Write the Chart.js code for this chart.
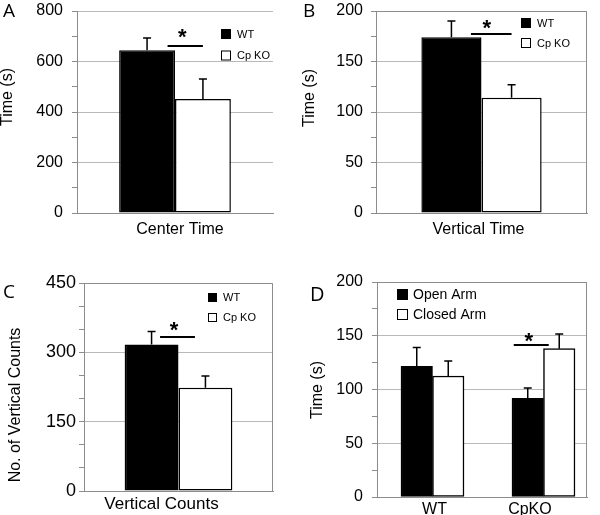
<!DOCTYPE html>
<html><head><meta charset="utf-8">
<script src="https://cdn.jsdelivr.net/npm/chart.js@4/dist/chart.umd.min.js"></script>
<style>
body{margin:0;background:#fff;width:600px;height:515px;position:relative;overflow:hidden}
.p{position:absolute}
canvas{display:block}
</style></head><body>
<div class="p" style="left:0;top:0"><canvas id="cA" width="300" height="250"></canvas></div>
<div class="p" style="left:300px;top:0"><canvas id="cB" width="300" height="250"></canvas></div>
<div class="p" style="left:0;top:250px"><canvas id="cC" width="300" height="265"></canvas></div>
<div class="p" style="left:300px;top:250px"><canvas id="cD" width="300" height="265"></canvas></div>
<script>
// ---- data ----
const seriesWT = ['WT', 'Cp KO'];
const seriesArm = ['Open Arm', 'Closed Arm'];

const catsA = ['Center Time'];
const wtA = [645];
const koA = [451];
const wtErrA = [48];
const koErrA = [80];
const majorA = [0, 200, 400, 600, 800];

const catsB = ['Vertical Time'];
const wtB = [174];
const koB = [114];
const wtErrB = [16];
const koErrB = [13];
const majorB = [0, 50, 100, 150, 200];

const catsC = ['Vertical Counts'];
const wtC = [317];
const koC = [223.5];
const wtErrC = [28];
const koErrC = [25.5];
const majorC = [0, 150, 300, 450];

const catsD = ['WT', 'CpKO'];
const openD = [121.6, 91.8];
const closedD = [112.6, 138];
const openErrD = [17.4, 9.6];
const closedErrD = [13.9, 13.6];
const majorD = [0, 50, 100, 150, 200];

Chart.defaults.font.family = '"Liberation Sans", Arial, sans-serif';
Chart.defaults.color = '#000';

const AXIS = '#8c8c8c', GRID = '#b9b9b9';

const deco = {
  id: 'deco',
  afterDatasetsDraw(chart, args, o) {
    const ctx = chart.ctx, ca = chart.chartArea, ys = chart.scales.y;
    ctx.save();
    if (o.frame) {
      ctx.strokeStyle = AXIS; ctx.lineWidth = 1;
      ctx.beginPath();
      ctx.moveTo(ca.left, ca.top + 0.5);
      ctx.lineTo(ca.right - 0.5, ca.top + 0.5);
      ctx.lineTo(ca.right - 0.5, ca.bottom);
      ctx.stroke();
    }
    chart.data.datasets.forEach((ds, di) => {
      const meta = chart.getDatasetMeta(di);
      meta.data.forEach((bar, i) => {
        const d = ds.data[i];
        const v = (typeof d === 'object') ? d.y : d;
        const yt = ys.getPixelForValue(v + ds.errors[i]);
        const x = bar.x;
        ctx.strokeStyle = '#000'; ctx.lineWidth = 1.5;
        ctx.beginPath();
        ctx.moveTo(x, bar.y); ctx.lineTo(x, yt);
        ctx.moveTo(x - 4, yt); ctx.lineTo(x + 4, yt);
        ctx.stroke();
      });
    });
    if (o.sig) {
      const s = o.sig;
      const x1 = chart.getDatasetMeta(s.a[0]).data[s.a[1]].x + s.a[2];
      const x2 = chart.getDatasetMeta(s.b[0]).data[s.b[1]].x + s.b[2];
      const yy = ys.getPixelForValue(s.value);
      ctx.strokeStyle = '#000'; ctx.lineWidth = 2;
      ctx.beginPath(); ctx.moveTo(x1, yy); ctx.lineTo(x2, yy); ctx.stroke();
      ctx.fillStyle = '#000';
      ctx.font = 'bold 22px "Liberation Sans", Arial, sans-serif';
      ctx.textAlign = 'center'; ctx.textBaseline = 'alphabetic';
      ctx.fillText('*', (x1 + x2) / 2 + s.dx, yy + s.dy + 12);
    }
    ctx.restore();
  },
  afterDraw(chart, args, o) {
    const ctx = chart.ctx;
    ctx.save();
    ctx.fillStyle = '#000';
    if (o.letter) {
      ctx.font = o.letter.font;
      ctx.textAlign = 'left'; ctx.textBaseline = 'alphabetic';
      ctx.fillText(o.letter.text, o.letter.x, o.letter.y);
    }
    if (o.ytitle) {
      ctx.font = o.ytitle.font;
      ctx.translate(o.ytitle.x, o.ytitle.y);
      ctx.rotate(-Math.PI / 2);
      ctx.textAlign = 'center'; ctx.textBaseline = 'middle';
      ctx.fillText(o.ytitle.text, 0, 0);
      ctx.setTransform(1, 0, 0, 1, 0, 0);
    }
    if (o.legend) {
      const L = o.legend;
      ctx.font = L.font;
      ctx.textAlign = 'left'; ctx.textBaseline = 'middle';
      chart.data.datasets.forEach((ds, i) => {
        const y = L.y + i * L.gap;
        ctx.fillStyle = ds.backgroundColor;
        ctx.fillRect(L.x, y, L.box, L.box);
        ctx.strokeStyle = '#000'; ctx.lineWidth = 1;
        ctx.strokeRect(L.x + 0.5, y + 0.5, L.box - 1, L.box - 1);
        ctx.fillStyle = '#000';
        ctx.fillText(ds.label, L.x + L.tx, y + L.box / 2 + 0.5);
      });
    }
    ctx.restore();
  }
};

function yScale(max, step, major, width, pad, fontSize) {
  return {
    min: 0, max: max,
    afterFit: s => { s.width = width; s.paddingTop = 0; s.paddingBottom = 0; },
    border: { color: AXIS, width: 1 },
    grid: {
      color: c => (c.tick && major.includes(c.tick.value) && c.tick.value !== 0) ? GRID : 'rgba(0,0,0,0)',
      tickColor: AXIS, tickLength: 5, lineWidth: 1
    },
    ticks: {
      stepSize: step, padding: pad, font: { size: fontSize }, autoSkip: false,
      callback: v => major.includes(v) ? String(v) : ''
    }
  };
}
function xCat(height, pad, offset, fontSize) {
  return {
    afterFit: s => { s.height = height; s.paddingLeft = 0; s.paddingRight = 0; },
    border: { color: AXIS, width: 1 },
    grid: { display: false, drawTicks: false, tickLength: 0 },
    ticks: { padding: pad, labelOffset: offset, font: { size: fontSize } }
  };
}
function barDs(label, data, errs, fill) {
  return { label, data, errors: errs, backgroundColor: fill, borderColor: '#000',
    borderWidth: 1.5, borderSkipped: false, categoryPercentage: 0.57, barPercentage: 1 };
}
const base = { responsive: false, animation: false, devicePixelRatio: 1 };
const noLeg = { legend: { display: false }, tooltip: { enabled: false } };

new Chart(document.getElementById('cA'), {
  type: 'bar',
  data: { labels: catsA, datasets: [
    barDs(seriesWT[0], wtA, wtErrA, '#000'),
    barDs(seriesWT[1], koA, koErrA, '#fff') ] },
  options: Object.assign({}, base, {
    layout: { padding: { top: 11, right: 27, left: 0, bottom: 0 } },
    scales: { x: xCat(37, 7, 5, 16), y: yScale(800, 100, majorA, 77, 9, 16) },
    plugins: Object.assign({}, noLeg, { deco: {
      frame: false,
      sig: { a: [0, 0, 20.5], b: [1, 0, 0], value: 661, dx: -3, dy: -14 },
      letter: { text: 'A', x: 3, y: 17, font: '19px "Open Sans", sans-serif' },
      ytitle: { text: 'Time (s)', x: 8, y: 97, font: '16px "Liberation Sans", Arial, sans-serif' },
      legend: { x: 221, y: 29, gap: 21.5, box: 10, tx: 16, font: '11px "Liberation Sans", Arial, sans-serif' }
    } })
  }),
  plugins: [deco]
});

new Chart(document.getElementById('cB'), {
  type: 'bar',
  data: { labels: catsB, datasets: [
    barDs(seriesWT[0], wtB, wtErrB, '#000'),
    barDs(seriesWT[1], koB, koErrB, '#fff') ] },
  options: Object.assign({}, base, {
    layout: { padding: { top: 11, right: 13, left: 0, bottom: 0 } },
    scales: { x: xCat(37, 7, -3, 16), y: yScale(200, 25, majorB, 76, 8, 16) },
    plugins: Object.assign({}, noLeg, { deco: {
      frame: true,
      sig: { a: [0, 0, 19.5], b: [1, 0, 0], value: 177.2, dx: -4.5, dy: -11 },
      letter: { text: 'B', x: 3, y: 17, font: '19px "Open Sans", sans-serif' },
      ytitle: { text: 'Time (s)', x: 10, y: 98, font: '16px "Liberation Sans", Arial, sans-serif' },
      legend: { x: 221, y: 18, gap: 20, box: 10, tx: 16, font: '11px "Liberation Sans", Arial, sans-serif' }
    } })
  }),
  plugins: [deco]
});

new Chart(document.getElementById('cC'), {
  type: 'bar',
  data: { labels: catsC, datasets: [
    barDs(seriesWT[0], wtC, wtErrC, '#000'),
    barDs(seriesWT[1], koC, koErrC, '#fff') ] },
  options: Object.assign({}, base, {
    layout: { padding: { top: 33, right: 27, left: 0, bottom: 0 } },
    scales: { x: xCat(24, 3, -17, 17), y: yScale(450, 50, majorC, 84, 3, 18) },
    plugins: Object.assign({}, noLeg, { deco: {
      frame: true,
      sig: { a: [0, 0, 8.5], b: [1, 0, -10.5], value: 333, dx: -3.5, dy: -12 },
      letter: { text: 'C', x: 3, y: 48, font: '19px "Open Sans", sans-serif' },
      ytitle: { text: 'No. of Vertical Counts', x: 16, y: 155, font: '16px "Liberation Sans", Arial, sans-serif' },
      legend: { x: 208, y: 43, gap: 20, box: 9, tx: 15, font: '11px "Liberation Sans", Arial, sans-serif' }
    } })
  }),
  plugins: [deco]
});

new Chart(document.getElementById('cD'), {
  type: 'bar',
  data: { datasets: [
    { label: seriesArm[0], data: openD.map((v, i) => ({ x: i, y: v })), errors: openErrD,
      backgroundColor: '#000', borderColor: '#000', borderWidth: 1.5, borderSkipped: false, barThickness: 31.5 },
    { label: seriesArm[1], data: closedD.map((v, i) => ({ x: i, y: v })), errors: closedErrD,
      backgroundColor: '#fff', borderColor: '#000', borderWidth: 1.5, borderSkipped: false, barThickness: 31.5 } ] },
  options: Object.assign({}, base, {
    layout: { padding: { top: 32, right: 13, left: 0, bottom: 0 } },
    scales: {
      x: { type: 'linear', min: -0.5, max: 1.392, offset: false, grace: 0, bounds: 'data',
        afterBuildTicks: s => { s.ticks = [{ value: 0.018 }, { value: 0.878 }]; },
        afterFit: s => { s.height = 18; s.paddingLeft = 0; s.paddingRight = 0; },
        border: { color: AXIS, width: 1 },
        grid: { display: false, drawTicks: false, tickLength: 0, offset: false },
        ticks: { padding: 3, font: { size: 16 }, autoSkip: false, callback: (v, i) => catsD[i] } },
      y: yScale(200, 25, majorD, 77, 9, 16)
    },
    plugins: Object.assign({}, noLeg, { deco: {
      frame: true,
      sig: { a: [0, 1, -14], b: [1, 1, -10.5], value: 141.4, dx: -2.5, dy: -9 },
      letter: { text: 'D', x: 10, y: 51, font: '20px "Open Sans", sans-serif' },
      ytitle: { text: 'Time (s)', x: 18, y: 140, font: '16px "Liberation Sans", Arial, sans-serif' },
      legend: { x: 97, y: 39, gap: 20, box: 11, tx: 16, font: '14px "Liberation Sans", Arial, sans-serif' }
    } })
  }),
  plugins: [deco]
});
</script>
</body></html>
